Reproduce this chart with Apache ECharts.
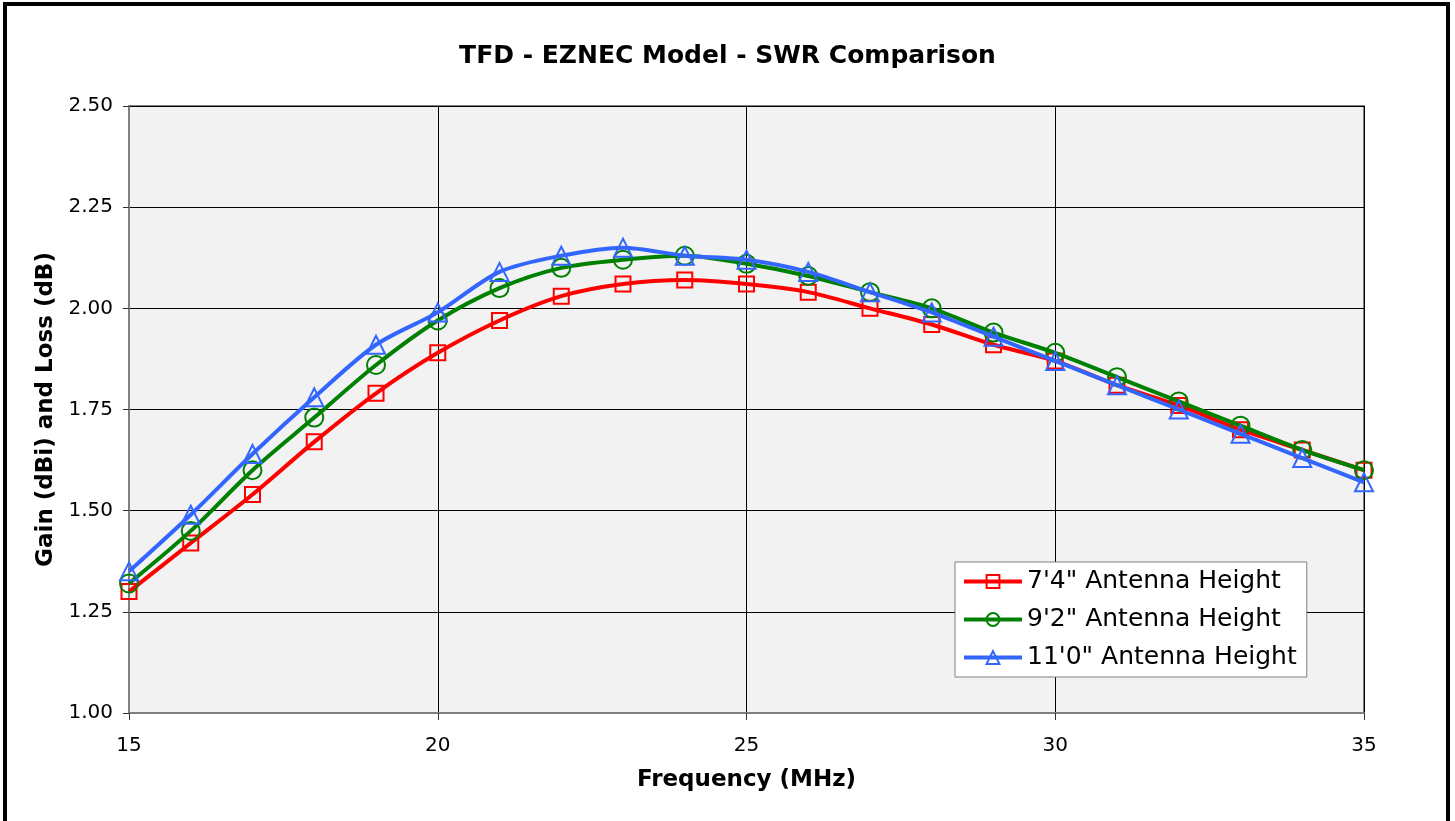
<!DOCTYPE html>
<html><head><meta charset="utf-8">
<script src="https://cdn.jsdelivr.net/npm/echarts@6/dist/echarts.min.js"></script>
<style>html,body{margin:0;padding:0;background:#fff}#c{width:1455px;height:821px}</style>
</head><body><div id="c"></div>
<script>
const freqs = [15,16,17,18,19,20,21,22,23,24,25,26,27,28,29,30,31,32,33,34,35];
const h74  = [1.30,1.42,1.54,1.67,1.79,1.89,1.97,2.03,2.06,2.07,2.06,2.04,2.00,1.96,1.91,1.87,1.81,1.76,1.70,1.65,1.60];
const h92  = [1.32,1.45,1.60,1.73,1.86,1.97,2.05,2.10,2.12,2.13,2.11,2.08,2.04,2.00,1.94,1.89,1.83,1.77,1.71,1.65,1.60];
const h110 = [1.35,1.49,1.64,1.78,1.91,1.99,2.09,2.13,2.15,2.13,2.12,2.09,2.04,1.99,1.93,1.87,1.81,1.75,1.69,1.63,1.57];
const names = ["7'4\" Antenna Height", "9'2\" Antenna Height", "11'0\" Antenna Height"];
const colors = ['#ff0000', '#008000', '#3366ff'];
const symbols = ['rect', 'circle', 'triangle'];
const symSizes = [15, 18, 18];
const seriesData = [h74, h92, h110];
const FONT = '"DejaVu Sans", Verdana, sans-serif';

const chart = echarts.init(document.getElementById('c'));
chart.setOption({
  animation: false,
  backgroundColor: '#ffffff',
  graphic: [{
    type: 'rect', silent: true, z: 100,
    shape: { x: 5, y: 4, width: 1443, height: 900 },
    style: { fill: 'none', stroke: '#000', lineWidth: 4 }
  }],
  title: {
    text: 'TFD - EZNEC Model - SWR Comparison',
    left: 'center', top: 39,
    textStyle: { fontFamily: FONT, fontWeight: 'bold', fontSize: 25, color: '#000' }
  },
  grid: {
    left: 129, right: 91, top: 106, bottom: 108,
    show: true, backgroundColor: '#f2f2f2', borderColor: '#808080', borderWidth: 2
  },
  legend: {
    orient: 'vertical',
    left: 955, top: 562,
    backgroundColor: '#ffffff', borderColor: '#808080', borderWidth: 1,
    padding: [7, 10, 7, 7],
    itemWidth: 58, itemHeight: 16, itemGap: 13,
    lineStyle: { width: 4 },
    textStyle: { fontFamily: FONT, fontSize: 25, color: '#000' },
    data: names
  },
  xAxis: {
    type: 'value', min: 15, max: 35, interval: 5,
    name: 'Frequency (MHz)', nameLocation: 'middle', nameGap: 56,
    nameTextStyle: { fontFamily: FONT, fontWeight: 'bold', fontSize: 23, color: '#000' },
    axisLine: { onZero: false, lineStyle: { color: '#808080', width: 2 } },
    axisTick: { show: true, length: 7, lineStyle: { color: '#333' } },
    axisLabel: { fontFamily: FONT, fontSize: 20, color: '#000', margin: 23 },
    splitLine: { show: true, lineStyle: { color: '#000', width: 1 } }
  },
  yAxis: {
    type: 'value', min: 1, max: 2.5, interval: 0.25,
    name: 'Gain (dBi) and Loss (dB)', nameLocation: 'middle', nameGap: 70, nameRotate: 90,
    nameTextStyle: { fontFamily: FONT, fontWeight: 'bold', fontSize: 23, color: '#000' },
    axisLine: { show: true, onZero: false, lineStyle: { color: '#808080', width: 2 } },
    axisTick: { show: true, length: 6, lineStyle: { color: '#333' } },
    axisLabel: { fontFamily: FONT, fontSize: 20, color: '#000', margin: 16,
      formatter: v => v.toFixed(2) },
    splitLine: { show: true, lineStyle: { color: '#000', width: 1 } }
  },
  series: names.map((n, i) => ({
    name: n, type: 'line', smooth: 0.3,
    data: freqs.map((f, k) => [f, seriesData[i][k]]),
    symbol: symbols[i], symbolSize: symSizes[i],
    lineStyle: { color: colors[i], width: 4 },
    itemStyle: { color: 'rgba(0,0,0,0)', borderColor: colors[i], borderWidth: 2 },
    z: 3 + i
  }))
});
</script></body></html>
